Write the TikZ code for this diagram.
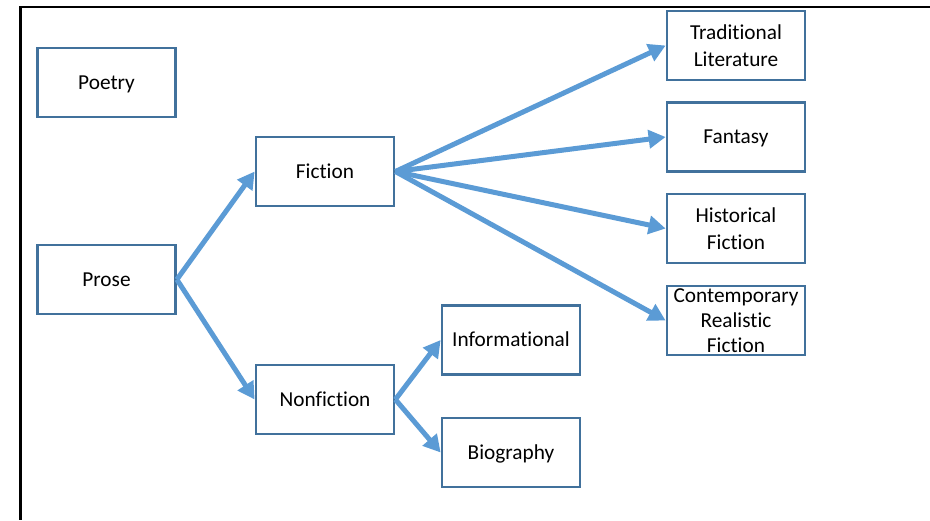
\documentclass[tikz,border=0pt]{standalone}
\usepackage{fontspec}
\setmainfont[Ligatures=NoCommon]{Carlito}
\usetikzlibrary{arrows.meta}
\definecolor{boxline}{HTML}{41719C}
\definecolor{arrowblue}{HTML}{5B9BD5}
\begin{document}
\begin{tikzpicture}[x=1pt,y=-1pt,
  genre/.style={draw=boxline, line width=2.75pt, fill=white, minimum width=138pt, minimum height=69pt,
    inner sep=0pt, align=center, text width=136pt,
    font=\fontsize{21.3}{27}\selectfont},
  single/.style={genre, text height=17pt, text depth=4pt},
  tight/.style={font=\fontsize{21.3}{25}\selectfont},
  link/.style={draw=arrowblue, line width=5pt, -{Triangle[length=17pt,width=18pt]}}]
\useasboundingbox (0,0) rectangle (930,520);
\draw[line width=2.5pt] (930,7) -- (20.5,7) -- (20.5,520);

\node[single] (poetry) at (106.5,82.5) {Poetry};
\node[single] (prose) at (106.5,279.5) {Prose};
\node[single] (fiction) at (325,171.5) {Fiction};
\node[single] (nonfiction) at (325,399.5) {Nonfiction};
\node[single] (info) at (511,340) {Informational};
\node[single] (bio) at (511,452.5) {Biography};
\node[genre] (trad) at (736,45.5) {Traditional\\Literature};
\node[single] (fantasy) at (736,137) {Fantasy};
\node[genre] (hist) at (736,228.5) {Historical\\Fiction};
\node[genre, tight] (contemp) at (736,320.5) {Contemporary\\Realistic\\Fiction};

\draw[link] (prose.east) -- (fiction.west);
\draw[link] (prose.east) -- (nonfiction.west);
\draw[link] (fiction.east) -- (trad.west);
\draw[link] (fiction.east) -- (fantasy.west);
\draw[link] (fiction.east) -- (hist.west);
\draw[link] (fiction.east) -- (contemp.west);
\draw[link] (nonfiction.east) -- (info.west);
\draw[link] (nonfiction.east) -- (bio.west);
\end{tikzpicture}
\end{document}
